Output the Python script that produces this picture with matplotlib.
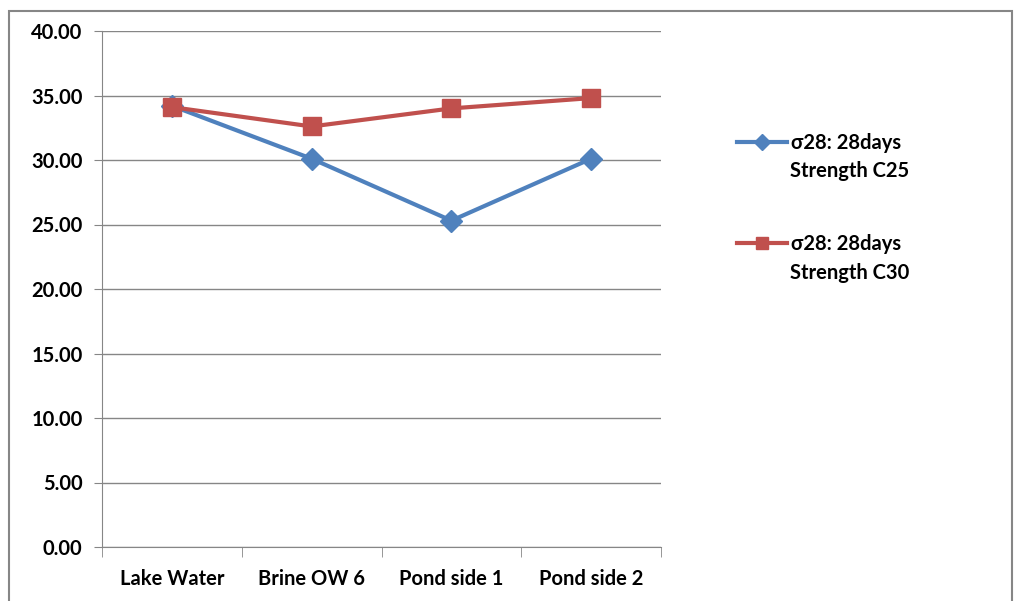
import matplotlib.pyplot as plt
from matplotlib.patches import Rectangle

# Water sources and 28-day compressive strength
sources = ['Lake Water', 'Brine OW 6', 'Pond side 1', 'Pond side 2']
strength_c25 = [34.2, 30.1, 25.3, 30.1]
strength_c30 = [34.1, 32.6, 34.0, 34.8]
series_names = ['σ28: 28days', 'σ28: 28days']
series_sub = ['Strength C25', 'Strength C30']

plt.rcParams['font.family'] = ['Lato', 'DejaVu Sans']
plt.rcParams['font.weight'] = 'bold'

fig = plt.figure(figsize=(10.16, 6.01), dpi=100)
ax = fig.add_axes([102 / 1016, 54 / 601, 559 / 1016, 516 / 601])

x = range(len(sources))
ax.plot(x, strength_c25, color='#4F81BD', lw=3, marker='D', ms=11,
        label=series_names[0])
ax.plot(x, strength_c30, color='#C0504D', lw=3, marker='s', ms=13,
        label=series_names[1])

ax.set_ylim(0, 40)
ax.set_xlim(-0.5, 3.5)
ax.set_yticks(range(0, 41, 5))
ax.set_yticklabels([f'{v:.2f}' for v in range(0, 41, 5)], fontsize=14.5, fontweight='bold')
ax.set_xticks(list(x))
ax.set_xticklabels(sources, fontsize=14.5, fontweight='bold')
ax.tick_params(axis='x', length=0, pad=16)
ax.set_xticks([-0.5, 0.5, 1.5, 2.5, 3.5], minor=True)
ax.tick_params(axis='x', which='minor', length=7, color='#868686')
ax.tick_params(axis='y', length=6, color='#868686', pad=8)
ax.grid(axis='y', color='#868686', lw=1)
ax.set_axisbelow(True)
for side in ['top', 'right']:
    ax.spines[side].set_visible(False)
for side in ['left', 'bottom']:
    ax.spines[side].set_color('#868686')

leg = ax.legend(loc='upper left', bbox_to_anchor=(1.136, 0.803), frameon=False,
                borderaxespad=0, borderpad=0, markerscale=0.7,
                handlelength=2.5, handletextpad=0.2, labelspacing=4.05,
                prop={'weight': 'bold', 'size': 14.5})

# second line of each legend label, under the first
for sub, y_px in zip(series_sub, [171, 273]):
    fig.text(790 / 1016, 1 - y_px / 601, sub, fontsize=14.5, fontweight='bold',
             va='center', ha='left')

# chart border
fig.patches.append(Rectangle((9 / 1016, -0.01), 1003 / 1016, 0.9985 - 4 / 601,
                             transform=fig.transFigure, fill=False,
                             edgecolor='#868686', lw=1.5))

fig.savefig('out.png', dpi=100)
